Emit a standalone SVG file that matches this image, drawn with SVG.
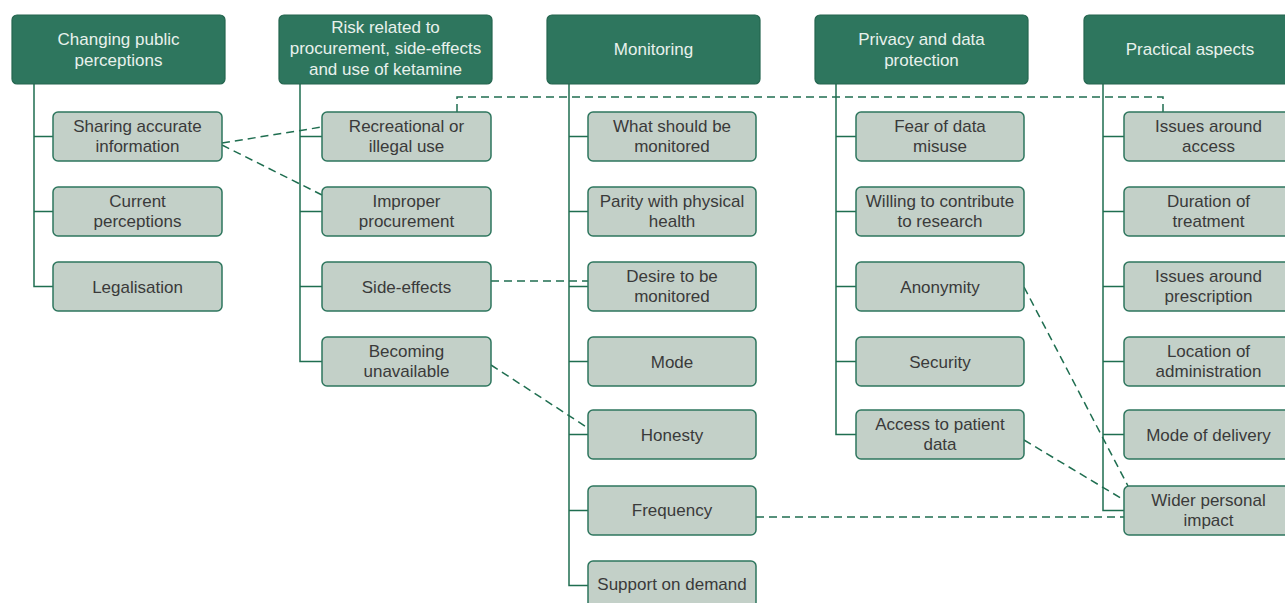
<svg xmlns="http://www.w3.org/2000/svg" width="1285" height="603" viewBox="0 0 1285 603">
<style>
.h{fill:#2e765e;stroke:#24654f;stroke-width:1.2}
.c{fill:#c3d0c8;stroke:#2e765e;stroke-width:1.5}
.ht{fill:#e8f1ec;font-family:"Liberation Sans",Arial,sans-serif;font-size:17px;text-anchor:middle}
.ct{fill:#3a3a3a;font-family:"Liberation Sans",Arial,sans-serif;font-size:17px;text-anchor:middle}
.tr{fill:none;stroke:#1f6e50;stroke-width:1.5}
.d{fill:none;stroke:#1f6e50;stroke-width:1.5;stroke-dasharray:8 5}
</style>
<rect width="1285" height="603" fill="#fff"/>
<g id="trunks">
<path class="tr" d="M34 84V286.5H53M34 136.5H53M34 211.5H53"/>
<path class="tr" d="M300 84V361.5H322M300 136.5H322M300 211.5H322M300 286.5H322"/>
<path class="tr" d="M569 84V585.5H588M569 136.5H588M569 211.5H588M569 286.5H588M569 361.5H588M569 434.5H588M569 510.5H588"/>
<path class="tr" d="M836 84V434.5H856M836 136.5H856M836 211.5H856M836 286.5H856M836 361.5H856"/>
<path class="tr" d="M1103 84V510.5H1124M1103 136.5H1124M1103 211.5H1124M1103 286.5H1124M1103 361.5H1124M1103 434.5H1124"/>
</g>
<g id="connectors">
<path class="d" d="M222 143L322 127"/>
<path class="d" d="M222 145L322 195"/>
<path class="d" d="M457 112V97H1163V112"/>
<path class="d" d="M491 281H588"/>
<path class="d" d="M491 365L588 428"/>
<path class="d" d="M1024 287L1128 486"/>
<path class="d" d="M1024 440L1124 500"/>
<path class="d" d="M756 517H1124"/>
</g>
<g id="h1"><rect class="h" x="12" y="15" width="213" height="69" rx="5"/><text class="ht" x="118.5" y="45">Changing public</text><text class="ht" x="118.5" y="65.5">perceptions</text></g>
<g id="h2"><rect class="h" x="279" y="15" width="213" height="69" rx="5"/><text class="ht" x="385.5" y="33">Risk related to</text><text class="ht" x="385.5" y="54">procurement, side-effects</text><text class="ht" x="385.5" y="75">and use of ketamine</text></g>
<g id="h3"><rect class="h" x="547" y="15" width="213" height="69" rx="5"/><text class="ht" x="653.5" y="55">Monitoring</text></g>
<g id="h4"><rect class="h" x="815" y="15" width="213" height="69" rx="5"/><text class="ht" x="921.5" y="45">Privacy and data</text><text class="ht" x="921.5" y="65.5">protection</text></g>
<g id="h5"><rect class="h" x="1084" y="15" width="213" height="69" rx="5"/><text class="ht" x="1190" y="55">Practical aspects</text></g>

<g id="c1a"><rect class="c" x="53" y="112" width="169" height="49" rx="5"/><text class="ct" x="137.5" y="131.5">Sharing accurate</text><text class="ct" x="137.5" y="152">information</text></g>
<g id="c1b"><rect class="c" x="53" y="187" width="169" height="49" rx="5"/><text class="ct" x="137.5" y="206.5">Current</text><text class="ct" x="137.5" y="227">perceptions</text></g>
<g id="c1c"><rect class="c" x="53" y="262" width="169" height="49" rx="5"/><text class="ct" x="137.5" y="292.5">Legalisation</text></g>

<g id="c2a"><rect class="c" x="322" y="112" width="169" height="49" rx="5"/><text class="ct" x="406.5" y="131.5">Recreational or</text><text class="ct" x="406.5" y="152">illegal use</text></g>
<g id="c2b"><rect class="c" x="322" y="187" width="169" height="49" rx="5"/><text class="ct" x="406.5" y="206.5">Improper</text><text class="ct" x="406.5" y="227">procurement</text></g>
<g id="c2c"><rect class="c" x="322" y="262" width="169" height="49" rx="5"/><text class="ct" x="406.5" y="292.5">Side-effects</text></g>
<g id="c2d"><rect class="c" x="322" y="337" width="169" height="49" rx="5"/><text class="ct" x="406.5" y="356.5">Becoming</text><text class="ct" x="406.5" y="377">unavailable</text></g>

<g id="c3a"><rect class="c" x="588" y="112" width="168" height="49" rx="5"/><text class="ct" x="672" y="131.5">What should be</text><text class="ct" x="672" y="152">monitored</text></g>
<g id="c3b"><rect class="c" x="588" y="187" width="168" height="49" rx="5"/><text class="ct" x="672" y="206.5">Parity with physical</text><text class="ct" x="672" y="227">health</text></g>
<g id="c3c"><rect class="c" x="588" y="262" width="168" height="49" rx="5"/><text class="ct" x="672" y="281.5">Desire to be</text><text class="ct" x="672" y="302">monitored</text></g>
<g id="c3d"><rect class="c" x="588" y="337" width="168" height="49" rx="5"/><text class="ct" x="672" y="367.5">Mode</text></g>
<g id="c3e"><rect class="c" x="588" y="410" width="168" height="49" rx="5"/><text class="ct" x="672" y="440.5">Honesty</text></g>
<g id="c3f"><rect class="c" x="588" y="486" width="168" height="49" rx="5"/><text class="ct" x="672" y="516">Frequency</text></g>
<g id="c3g"><rect class="c" x="588" y="561" width="168" height="49" rx="5"/><text class="ct" x="672" y="590">Support on demand</text></g>

<g id="c4a"><rect class="c" x="856" y="112" width="168" height="49" rx="5"/><text class="ct" x="940" y="131.5">Fear of data</text><text class="ct" x="940" y="152">misuse</text></g>
<g id="c4b"><rect class="c" x="856" y="187" width="168" height="49" rx="5"/><text class="ct" x="940" y="206.5">Willing to contribute</text><text class="ct" x="940" y="227">to research</text></g>
<g id="c4c"><rect class="c" x="856" y="262" width="168" height="49" rx="5"/><text class="ct" x="940" y="292.5">Anonymity</text></g>
<g id="c4d"><rect class="c" x="856" y="337" width="168" height="49" rx="5"/><text class="ct" x="940" y="367.5">Security</text></g>
<g id="c4e"><rect class="c" x="856" y="410" width="168" height="49" rx="5"/><text class="ct" x="940" y="429.5">Access to patient</text><text class="ct" x="940" y="450">data</text></g>

<g id="c5a"><rect class="c" x="1124" y="112" width="169" height="49" rx="5"/><text class="ct" x="1208.5" y="131.5">Issues around</text><text class="ct" x="1208.5" y="152">access</text></g>
<g id="c5b"><rect class="c" x="1124" y="187" width="169" height="49" rx="5"/><text class="ct" x="1208.5" y="206.5">Duration of</text><text class="ct" x="1208.5" y="227">treatment</text></g>
<g id="c5c"><rect class="c" x="1124" y="262" width="169" height="49" rx="5"/><text class="ct" x="1208.5" y="281.5">Issues around</text><text class="ct" x="1208.5" y="302">prescription</text></g>
<g id="c5d"><rect class="c" x="1124" y="337" width="169" height="49" rx="5"/><text class="ct" x="1208.5" y="356.5">Location of</text><text class="ct" x="1208.5" y="377">administration</text></g>
<g id="c5e"><rect class="c" x="1124" y="410" width="169" height="49" rx="5"/><text class="ct" x="1208.5" y="440.5">Mode of delivery</text></g>
<g id="c5f"><rect class="c" x="1124" y="486" width="169" height="49" rx="5"/><text class="ct" x="1208.5" y="505.5">Wider personal</text><text class="ct" x="1208.5" y="526">impact</text></g>
</svg>
